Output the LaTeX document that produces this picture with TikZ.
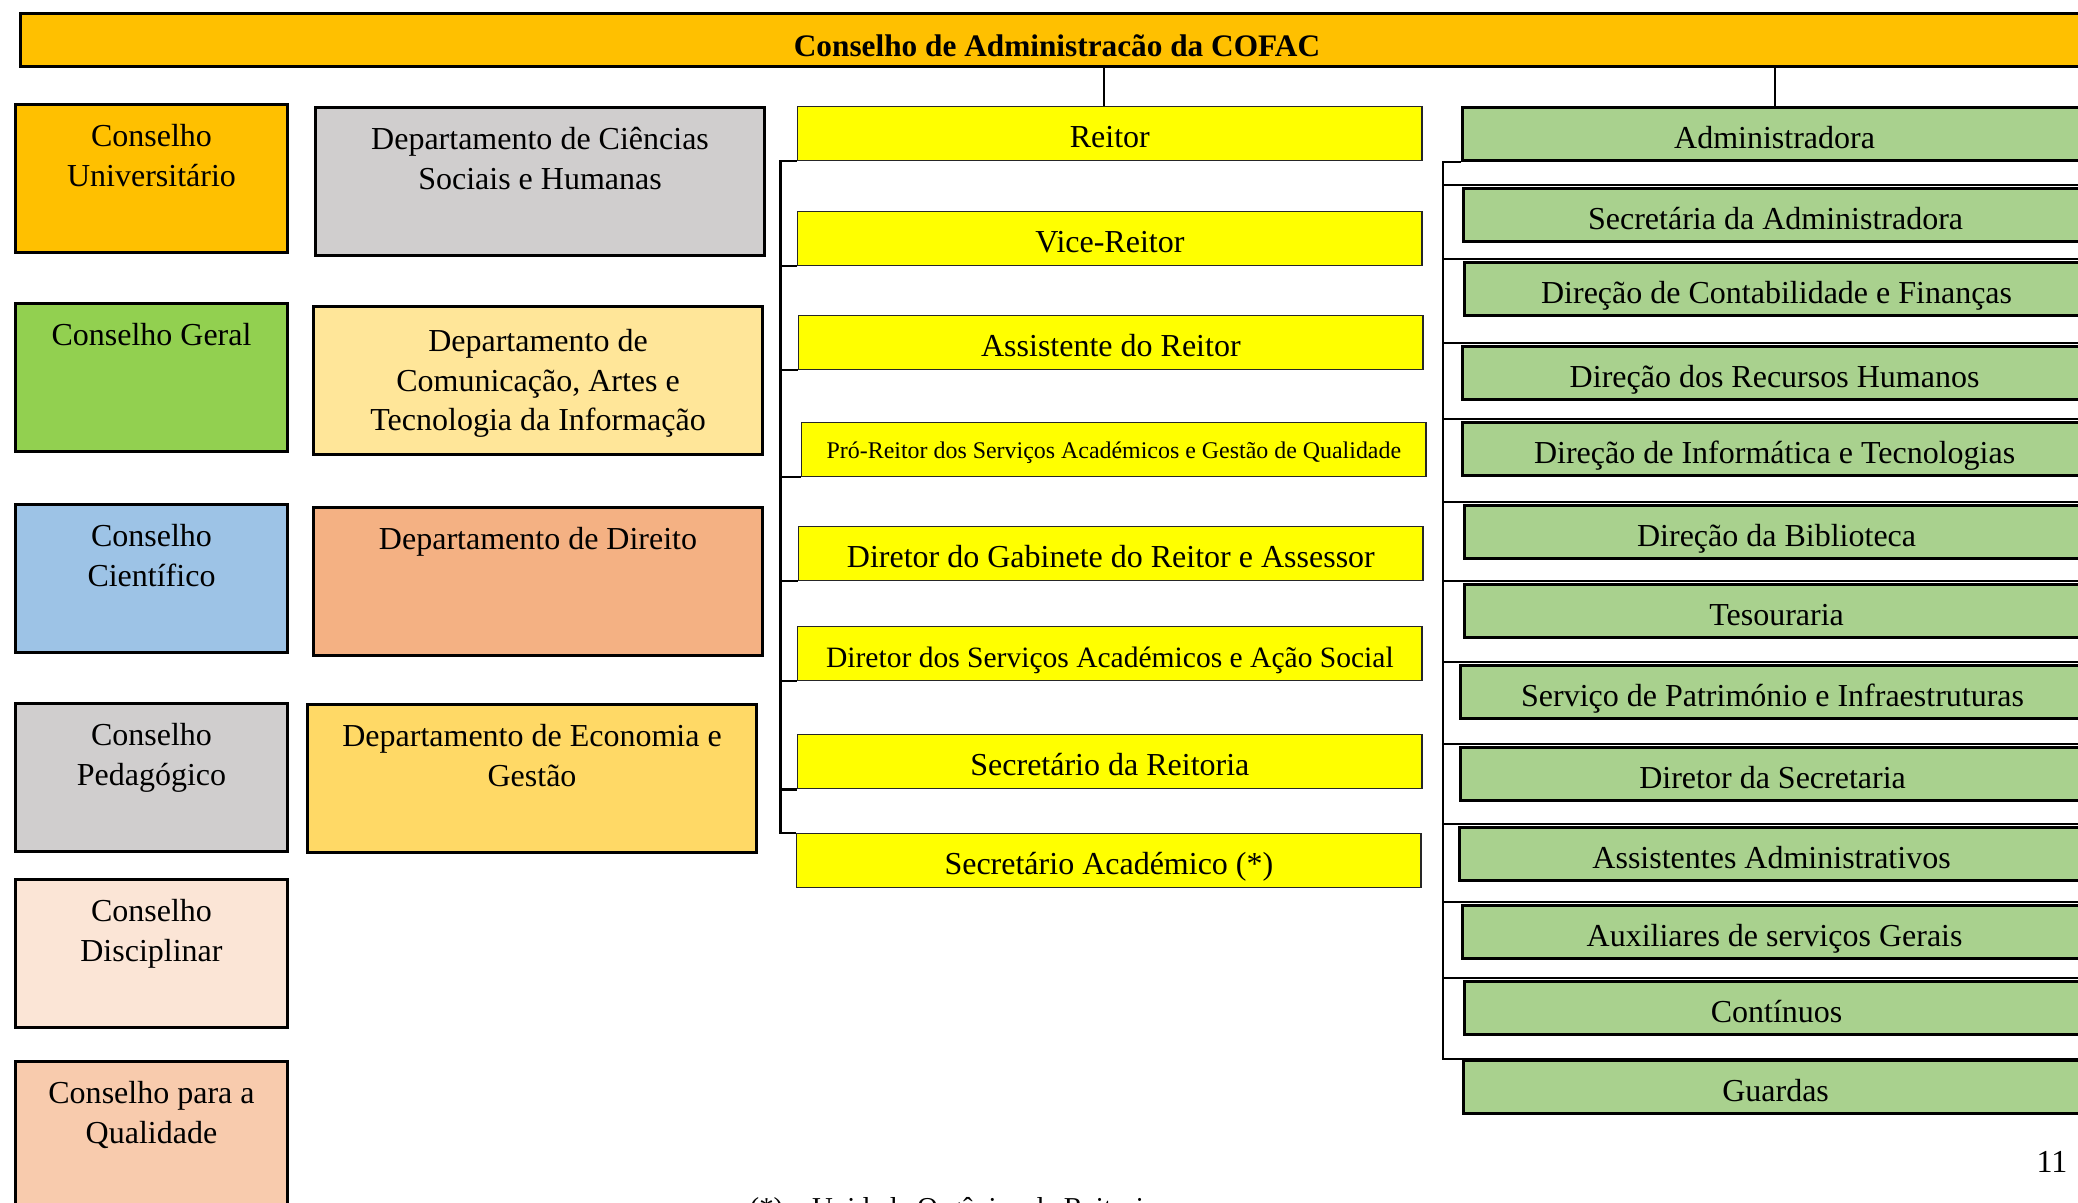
\documentclass[tikz,border=0pt]{standalone}
\usepackage{fontspec}
\setmainfont{Liberation Serif}
\usetikzlibrary{positioning}

\definecolor{cofacorange}{HTML}{FFC000}
\definecolor{geralgreen}{HTML}{92D050}
\definecolor{cientblue}{HTML}{9DC3E6}
\definecolor{pedgray}{HTML}{D0CECE}
\definecolor{discpeach}{HTML}{FBE5D6}
\definecolor{qualpeach}{HTML}{F8CBAD}
\definecolor{comyellow}{HTML}{FFE699}
\definecolor{dirsalmon}{HTML}{F4B183}
\definecolor{ecogold}{HTML}{FFD966}
\definecolor{reityellow}{HTML}{FFFF00}
\definecolor{admgreen}{HTML}{A9D18E}

\newcommand{\orgfont}{\fontsize{9.1}{11.2}\selectfont}
\newcommand{\smallorgfont}{\fontsize{6.8}{8}\selectfont}

\begin{document}
\begin{tikzpicture}[x=0.01cm,y=-0.01cm,
	conbox/.style={draw,line width=0.8pt,fill=#1,anchor=north west,minimum width=2.72cm,minimum height=1.48cm,inner sep=0pt},
	depbox/.style={draw,line width=0.8pt,fill=#1,anchor=north west,minimum width=4.49cm,minimum height=1.48cm,inner sep=0pt},
	toptext/.style={anchor=north,align=center,yshift=-0.21cm,inner sep=0pt,font=\orgfont},
	reitbox/.style={draw=black!85,line width=0.4pt,fill=reityellow,anchor=north west,minimum width=6.24cm,minimum height=0.54cm,inner sep=0pt,text height=0.8em,text depth=0pt,font=\orgfont},
	admbox/.style={draw,line width=0.8pt,fill=admgreen,anchor=north west,minimum width=6.24cm,minimum height=0.53cm,inner sep=0pt,text height=0.84em,text depth=0pt,font=\orgfont},
	link/.style={line width=0.6pt}]

	\useasboundingbox (0,0) rectangle (2078,1203);
	\clip (0,0) rectangle (2078,1203);

	%the board on top, running off the right edge
	\node[draw,line width=0.8pt,fill=cofacorange,anchor=north west,minimum width=20.72cm,minimum height=0.53cm,inner sep=0pt,text height=0.92em,text depth=0pt,font=\fontsize{8.9}{11}\selectfont\bfseries] (cofac) at (19,12) {Conselho de Administracão da COFAC};

	%councils on the left
	\begin{scope}
		\node[conbox=cofacorange] (cuni) at (14,103) {};
		\node[toptext] (cuni-t) at (cuni.north) {Conselho\\Universitário};
		\node[conbox=geralgreen] (cger) at (14,302) {};
		\node[toptext] (cger-t) at (cger.north) {Conselho Geral};
		\node[conbox=cientblue] (ccie) at (14,503) {};
		\node[toptext] (ccie-t) at (ccie.north) {Conselho\\Científico};
		\node[conbox=pedgray] (cped) at (14,702) {};
		\node[toptext] (cped-t) at (cped.north) {Conselho\\Pedagógico};
		\node[conbox=discpeach] (cdis) at (14,878) {};
		\node[toptext] (cdis-t) at (cdis.north) {Conselho\\Disciplinar};
		\node[conbox=qualpeach] (cqua) at (14,1060) {};
		\node[toptext] (cqua-t) at (cqua.north) {Conselho para a\\Qualidade};
	\end{scope}

	%departments
	\begin{scope}
		\node[depbox=pedgray] (dcsh) at (314,106) {};
		\node[toptext] (dcsh-t) at (dcsh.north) {Departamento de Ciências\\Sociais e Humanas};
		\node[depbox=comyellow] (dcom) at (312,305) {};
		\node[toptext,yshift=-0.03cm] (dcom-t) at (dcom.north) {Departamento de\\Comunicação, Artes e\\Tecnologia da Informação};
		\node[depbox=dirsalmon] (ddir) at (312,506) {};
		\node[toptext] (ddir-t) at (ddir.north) {Departamento de Direito};
		\node[depbox=ecogold] (deco) at (306,703) {};
		\node[toptext] (deco-t) at (deco.north) {Departamento de Economia e\\Gestão};
	\end{scope}

	%rectorate
	\begin{scope}
		\node[reitbox] (reit) at (797,106) {Reitor};
		\node[reitbox] (vice) at (797,211) {Vice-Reitor};
		\node[reitbox] (assist) at (798,315) {Assistente do Reitor};
		\node[reitbox,text height=0.5em,font=\smallorgfont] (pro) at (801,422) {Pró-Reitor dos Serviços Académicos e Gestão de Qualidade};
		\node[reitbox] (gab) at (798,526) {Diretor do Gabinete do Reitor e Assessor};
		\node[reitbox,font=\fontsize{8.4}{10}\selectfont] (sac) at (797,626) {Diretor dos Serviços Académicos e Ação Social};
		\node[reitbox] (secr) at (797,734) {Secretário da Reitoria};
		\node[reitbox] (secac) at (796,833) {Secretário Académico (*)};

		\coordinate (rbar) at ([xshift=-0.165cm]reit.south west);
		\draw[link] (reit.south west) -- (rbar) |- (secac.north west);
		\foreach \n in {vice,assist,pro,gab,sac,secr}
			\draw[link] (rbar |- \n.south west) -- (\n.south west);
	\end{scope}

	%administration
	\begin{scope}
		\node[admbox] (adm) at (1461,106) {Administradora};
		\node[admbox] (sec) at (1462,187) {Secretária da Administradora};
		\node[admbox] (cont) at (1463,261) {Direção de Contabilidade e Finanças};
		\node[admbox] (rh) at (1461,345) {Direção dos Recursos Humanos};
		\node[admbox] (info) at (1461,421) {Direção de Informática e Tecnologias};
		\node[admbox] (bib) at (1463,504) {Direção da Biblioteca};
		\node[admbox] (tes) at (1463,583) {Tesouraria};
		\node[admbox] (pat) at (1459,664) {Serviço de Património e Infraestruturas};
		\node[admbox] (dsec) at (1459,746) {Diretor da Secretaria};
		\node[admbox] (ass) at (1458,826) {Assistentes Administrativos};
		\node[admbox] (aux) at (1461,904) {Auxiliares de serviços Gerais};
		\node[admbox] (cnt) at (1463,980) {Contínuos};
		\node[admbox] (guard) at (1462,1059) {Guardas};

		\coordinate (abar) at ([xshift=-0.18cm]adm.south west);
		\draw[link] (adm.south west) -- (abar) |- (guard.north west) -- (guard.north east);
		\foreach \n in {sec,cont,rh,info,bib,tes,pat,dsec,ass,aux,cnt}
			\draw[link] ([yshift=0.02cm]abar |- \n.north west) -- ([yshift=0.02cm]\n.north east);
	\end{scope}

	%from the board down
	\draw[link] ([xshift=-0.06cm]reit.north) -- ([xshift=-0.06cm]reit.north |- cofac.south);
	\draw[link] (adm.north) -- (adm.north |- cofac.south);

	%page number and footnote
	\node[anchor=base,inner sep=0pt,font=\orgfont] (pagnum) at (2052,1172) {11};
	\node[anchor=base west,inner sep=0pt,font=\fontsize{8.2}{10}\selectfont] (nota) at (749,1217) {(*) – Unidade Orgânica da Reitoria};
\end{tikzpicture}
\end{document}
